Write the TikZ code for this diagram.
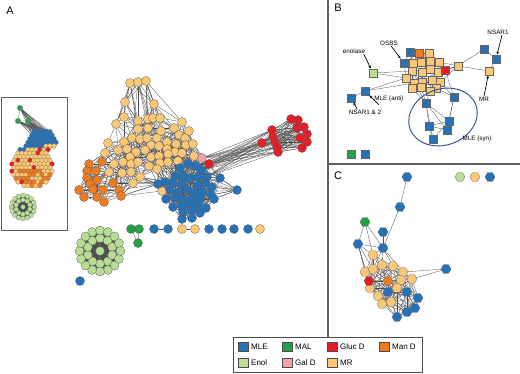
\documentclass[tikz,border=0pt]{standalone}
\usepackage{fontspec}
\setmainfont{Liberation Sans}
\usetikzlibrary{shapes.geometric,arrows.meta}
\pgfdeclarelayer{bg}
\pgfsetlayers{bg,main}

\definecolor{mle}{RGB}{38,114,184}
\definecolor{mal}{RGB}{40,160,72}
\definecolor{glucd}{RGB}{228,30,38}
\definecolor{mand}{RGB}{240,122,30}
\definecolor{enol}{RGB}{184,222,150}
\definecolor{gald}{RGB}{245,160,170}
\definecolor{mr}{RGB}{252,200,118}
\definecolor{frame}{RGB}{95,95,95}
\definecolor{synblue}{RGB}{40,72,150}

% edges between all nodes #1<i> (i=1..#2) closer than #3
\newcommand\linknear[3]{%
  \foreach \i in {1,...,#2}{%
    \pgfmathtruncatemacro\jstart{\i+1}%
    \ifnum\jstart>#2\relax\else
      \foreach \j in {\jstart,...,#2}{%
        \pgfpointdiff{\pgfpointanchor{#1\i}{center}}{\pgfpointanchor{#1\j}{center}}%
        \pgfgetlastxy{\dX}{\dY}%
        \pgfmathparse{veclen(\dX,\dY)}%
        \ifdim\pgfmathresult pt<#3pt\relax
          \draw[edge] (#1\i) -- (#1\j);
        \fi
      }%
    \fi
  }%
}

\begin{document}
\begin{tikzpicture}[x=1pt,y=-1pt]
\tikzset{
dot/.style={circle,draw=black!65,line width=0.3pt,inner sep=0,minimum size=9pt},
tiny dot/.style={circle,draw=black!60,line width=0.15pt,inner sep=0,minimum size=4.8pt},
sq node/.style={rectangle,draw=black!60,line width=0.3pt,inner sep=0,minimum size=7.8pt},
hex node/.style={regular polygon,regular polygon sides=6,draw=black!60,line width=0.3pt,inner sep=0,minimum size=10pt},
edge/.style={draw=black!70,line width=0.3pt},
panel/.style={font=\fontsize{11}{12}\selectfont,inner sep=0},
tag/.style={font=\fontsize{6.3}{7}\selectfont,inner sep=0.5pt},
arr/.style={-{Stealth[length=3pt,width=2.6pt]},line width=0.7pt,shorten >=0.5pt},
key/.style={rectangle,draw=black!70,line width=0.4pt,inner sep=0,minimum width=10pt,minimum height=9pt},
keytext/.style={font=\fontsize{8}{9}\selectfont,anchor=west,inner sep=0}
}
\useasboundingbox (0,0) rectangle (520,373);

% panel frames
\draw[frame,line width=1.2pt] (328,0) -- (328,337);
\draw[frame,line width=1.2pt] (328,164) -- (520,164);
\draw[frame,line width=0.8pt] (1,97) rectangle (67,230);

\node[panel] (pa) at (10,11) {A};
\node[panel] (pb) at (338,8) {B};
\node[panel] (pc) at (338,176) {C};

% A: main network
\foreach \x/\y/\c [count=\i] in {
130/83/mr,138/82/mr,146/81/mr,125/102/mr,154/104/mr,
124/117/mr,116/124/mr,138/121/mr,148/119/mr,153/118/mr,160/118/mr,
138/129/mr,148/128/mr,174/128/mr,182/122/mr,189/131/mr,
132/138/mr,140/139/mr,147/138/mr,157/138/mr,161/131/mr,179/135/mr,185/138/mr,
108/143/mr,124/142/mr,151/145/mr,159/146/mr,167/142/mr,176/144/mr,186/145/mr,193/144/mr,
118/150/mr,127/149/mr,136/152/mr,145/150/mr,167/149/mr,175/152/mr,182/153/mr,
105/153/mr,130/157/mr,151/157/mr,159/156/mr,168/154/mr,194/156/mr,
114/164/mr,123/162/mr,131/164/mr,138/162/mr,149/166/mr,160/163/mr,168/162/mr,178/161/mr,
109/172/mr,122/173/mr,131/172/mr,140/177/mr,157/169/mr,133/183/mr,162/191/mr,
89/164/mand,102/162/mand,87/171/mand,96/171/mand,87/178/mand,97/180/mand,90/184/mand,113/183/mand,
79/190/mand,93/189/mand,103/190/mand,119/190/mand,84/197/mand,97/197/mand,104/202/mand,121/196/mand,
180/168/mle,188/164/mle,196/166/mle,202/170/mle,175/176/mle,183/176/mle,190/178/mle,198/177/mle,207/177/mle,220/178/mle,
165/182/mle,173/183/mle,182/184/mle,197/186/mle,205/183/mle,212/187/mle,
158/184/mle,170/190/mle,178/192/mle,187/190/mle,195/193/mle,203/192/mle,211/195/mle,
166/199/mle,175/198/mle,183/200/mle,192/198/mle,200/199/mle,214/199/mle,237/190/mle,
173/207/mle,182/206/mle,190/204/mle,198/205/mle,206/208/mle,
183/212/mle,192/210/mle,200/213/mle,182/219/mle,192/218/mle,
209/164/glucd,262/143/glucd,272/130/glucd,273/137/glucd,275/142/glucd,277/147/glucd,278/152/glucd,
291/119/glucd,298/120/glucd,297/128/glucd,304/127/glucd,307/134/glucd,300/138/glucd,307/142/glucd,302/148/glucd,
202/158/gald}
  \node[dot,fill=\c] (n\i) at (\x,\y) {};

% small components
\node[dot,fill=mal] (g1) at (131,229) {};
\node[dot,fill=mal] (g2) at (139,229) {};
\node[dot,fill=mal] (g3) at (138,243) {};
\foreach \x/\c [count=\i] in {154/mle,168/mle,182/mr,195/mr,209/mle,222/mle,234/mle,248/mle,260/mr}
  \node[dot,fill=\c] (s\i) at (\x,229) {};
\node[dot,fill=mle] (s10) at (80,281) {};

% enolase ring
\node[dot,fill=enol] (ee1) at (100,251) {};
\foreach \k in {1,...,10}{
  \pgfmathtruncatemacro\nn{\k+1}
  \node[dot,fill=enol] (ee\nn) at ([shift={(100,251)}]\k*36+18:12.8) {};
}
\foreach \k in {1,...,16}{
  \pgfmathtruncatemacro\nn{\k+11}
  \node[dot,fill=enol] (ee\nn) at ([shift={(100,251)}]\k*22.5:20.5) {};
}

% inset
\node[tiny dot,fill=mal,minimum size=5.5pt] (ig1) at (20,108) {};
\node[tiny dot,fill=mal,minimum size=5.5pt] (ig2) at (18,121) {};
\node[tiny dot,fill=mal,minimum size=5.5pt] (ig3) at (28,121) {};
\pgfmathsetseed{11}
\foreach \r in {0,...,16}{
  \foreach \q in {0,...,13}{
    \pgfmathsetmacro\px{8+4*\q+2*mod(\r,2)}
    \pgfmathsetmacro\py{128+3.6*\r}
    \pgfmathtruncatemacro\inblob{(veclen(\px-32,\py-166)<22) || (((\px-42)/15)^2+((\py-140)/11)^2<1)}
    \ifnum\inblob=1
      \pgfmathtruncatemacro\k{(\py<153-0.2*(\px-10)) ? 0 : ((((\px<14) && (\py<178)) || (rnd<0.06)) ? 1 : (((\py>170) && (rnd<0.55)) ? 2 : 3))}
      \ifcase\k \def\colr{mle}\or\def\colr{glucd}\or\def\colr{mand}\or\def\colr{mr}\fi
      \node[tiny dot,fill=\colr] (ib\r-\q) at (\px,\py) {};
    \fi
  }
}
\node[tiny dot,fill=enol] (ie1) at (23,207) {};
\foreach \k in {1,...,10}{
  \pgfmathtruncatemacro\nn{\k+1}
  \node[tiny dot,fill=enol] (ie\nn) at ([shift={(23,207)}]\k*36+18:7.2) {};
}
\foreach \k in {1,...,16}{
  \pgfmathtruncatemacro\nn{\k+11}
  \node[tiny dot,fill=enol] (ie\nn) at ([shift={(23,207)}]\k*22.5:11.6) {};
}

% B
\foreach \x/\y/\c [count=\i] in {
410/52/mle,419/53/mand,429/53/mr,404/63/mle,413/63/mr,421/62/mr,430/61/mr,439/62/mr,
412/71/mr,422/72/mr,430/69/mr,438/72/mr,445/70/glucd,458/66/mr,406/78/mr,
414/83/mr,422/82/mr,432/80/mr,440/82/mr,412/88/mr,421/87/mr,436/88/mr,430/91/mr,
484/49/mle,496/59/mle,489/71/mr,373/73/enol,365/91/mle,351/98/mle,
426/103/mle,454/97/mle,449/121/mle,429/126/mle,447/130/mle,433/139/mle,
351/154/mal,365/154/mle}
  \node[sq node,fill=\c] (bb\i) at (\x,\y) {};
\draw[synblue,line width=0.9pt,rotate around={20:(443,117)}] (443,117) ellipse [x radius=35,y radius=28];

\node[tag] (lenol) at (354,51) {enolase};
\node[tag] (losbs) at (389,43) {OSBS};
\node[tag] (lnsar) at (498,32) {NSAR1};
\node[tag] (lmr) at (484,99) {MR};
\node[tag] (lanti) at (389,99) {MLE (anti)};
\node[tag] (lnsar12) at (365,112) {NSAR1 \& 2};
\node[tag] (lsyn) at (477,139) {MLE (syn)};

\draw[arr] ([xshift=-2pt]lenol.south east) -- (bb27);
\draw[arr] ([xshift=2pt]losbs.south) -- (bb4);
\draw[arr] ([xshift=4pt]lnsar.south) -- (bb25);
\draw[arr] (lmr.north) -- (bb26);
\draw[arr] ([xshift=5pt,yshift=-2pt]lanti.south west) -- (bb28);
\draw[arr] ([xshift=9pt]lnsar12.north west) -- (bb29);

% C
\foreach \x/\y/\c [count=\i] in {
373/255/mr,365/272/mr,373/269/mr,382/265/mr,393/266/mr,403/272/mr,412/279/mr,401/280/mr,
397/288/mr,370/288/mr,378/296/mr,382/304/mr,391/302/mr,369/281/glucd,388/281/mand,
388/292/mle,407/292/mle,418/298/mle,415/308/mle,407/312/mle,397/317/mle,
407/177/mle,400/207/mle,365/222/mal,383/232/mle,358/244/mle,383/248/mle,446/269/mle,
460/177/enol,475/177/mr,490/177/mle}
  \node[hex node,fill=\c] (cc\i) at (\x,\y) {};

% legend
\draw[black!70,line width=0.6pt] (233,337) rectangle (422,372);
\foreach \x/\y/\c/\t [count=\i] in {243/347/mle/MLE,287/347/mal/MAL,332/347/glucd/Gluc D,384/347/mand/Man D,
243/363/enol/Enol,287/363/gald/Gal D,332/363/mr/MR}{
  \node[key,fill=\c] (k\i) at (\x,\y) {};
  \node[keytext] (kt\i) at ([xshift=8pt]k\i.center) {\t};
}

\begin{pgfonlayer}{bg}
\linknear{n}{131}{27}
\foreach \a/\b in {1/4,2/4,3/4,1/5,2/5,3/5,1/6,1/8,1/12,2/8,2/9,2/13,3/9,3/10,3/11,3/13,2/17,3/19,1/7,
  4/6,4/7,4/8,4/12,5/9,5/10,5/11,5/14,5/15,5/21,3/15,2/20,1/18,
  61/24,61/32,63/39,65/45,67/46,67/33,71/54,70/53,75/55,75/56,69/45,60/39,67/40,71/47,
  75/92,71/92,75/86,67/86,59/92,59/99,58/86,56/87,55/93,54/92,75/93,
  52/76,50/80,51/76,57/86,44/77,38/76,37/80,49/86,31/77,30/78,
  105/85,105/91,105/98,105/104,105/90,105/97,105/84}
  \draw[edge] (n\a) -- (n\b);
\foreach \a in {117,...,122}{
  \foreach \b in {116,131,78,79,84}
    \draw[edge] (n\a) -- (n\b);
  \foreach \b in {123,...,130}
    \draw[edge] (n\a) -- (n\b);
}
\draw[edge] (g1) -- (g2) (g2) -- (g3) (g1) -- (g3);
\draw[edge] (s1) -- (s2) (s3) -- (s4);
\linknear{ee}{27}{99}
% inset
\draw[edge] (ig1) -- (ig2) (ig1) -- (ig3) (ig2) -- (ig3);
\foreach \g in {1,2,3}
  \foreach \t in {1-6,1-7,1-8,1-9,1-10,2-6,2-7,2-8,2-9,2-10,2-11}
    \draw[edge] (ig\g) -- (ib\t);
\linknear{ie}{27}{99}
% B
\linknear{bb}{23}{19}
\foreach \a/\b in {14/24,14/26,24/25,25/26,14/13,14/8,14/12,14/19,27/15,27/9,28/29,28/15,28/16,
  30/20,30/21,30/23,30/16,31/13,31/22,31/19,30/33,30/32,30/34,33/32,33/34,32/34,35/33,35/32,
  31/32,31/34,30/35}
  \draw[edge] (bb\a) -- (bb\b);
% C
\linknear{cc}{21}{34}
\foreach \a/\b in {22/23,23/27,24/26,24/27,24/1,25/27,26/27,26/1,26/2,26/10,26/14,26/3,
  27/1,27/4,27/5,27/6,27/3,28/7,28/6}
  \draw[edge] (cc\a) -- (cc\b);
\end{pgfonlayer}
\end{tikzpicture}
\end{document}
